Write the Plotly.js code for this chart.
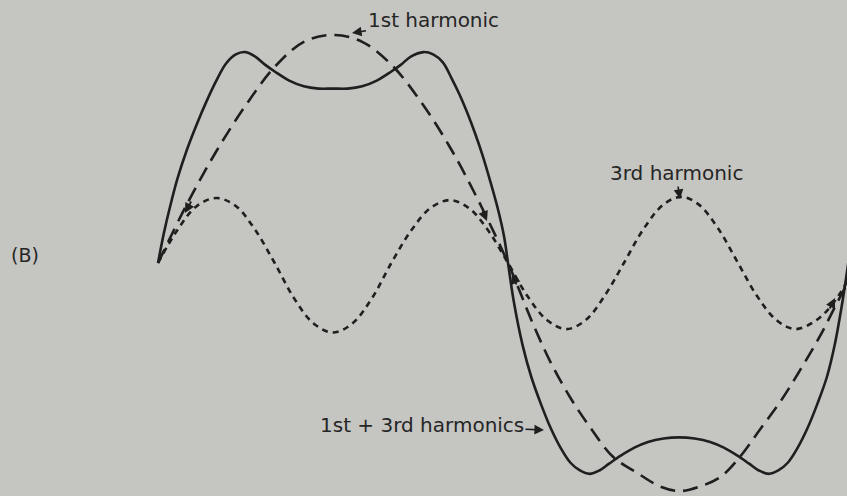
<!DOCTYPE html>
<html>
<head>
<meta charset="utf-8">
<script src="https://cdn.plot.ly/plotly-3.0.1.min.js"></script>
<style>
  html, body { margin: 0; padding: 0; background: #c5c5c2; }
  #chart { width: 847px; height: 496px; }
</style>
</head>
<body>
<div id="chart"></div>
<script>
// ---- Data (x: phase in degrees, y: amplitude, 1st harmonic peak = 1) ----
const harm1X = [0, 15, 30, 45, 60, 75, 90, 105, 120, 135, 150, 165, 180,
                193, 201.6, 212, 222.2, 234, 246.3, 258.2, 268.5, 278.7, 289, 299.3, 309.6, 319.9, 330.2, 340.5, 349.2, 354.3, 358];
const harm1Y = [0, 0.26, 0.49, 0.69, 0.86, 0.97, 1.0, 0.97, 0.87, 0.71, 0.51, 0.27, 0,
                -0.27, -0.43, -0.59, -0.72, -0.85, -0.92, -0.98, -1.0, -0.98, -0.94, -0.85, -0.73, -0.61, -0.47, -0.32, -0.175, -0.09, 0];

const harm3X = [0, 10, 20, 30, 40, 50, 60, 70, 80, 90, 100, 110, 120, 130, 140, 150, 160, 170, 180,
                190, 200, 210, 220, 230, 239.6, 250, 260, 269, 278, 288, 298.3, 308, 318, 327.6, 337, 344, 351, 357];
const harm3Y = [0, 0.145, 0.25, 0.285, 0.25, 0.145, 0, -0.155, -0.265, -0.305, -0.265, -0.155, 0, 0.14, 0.24, 0.276, 0.24, 0.14, 0,
                -0.145, -0.25, -0.29, -0.25, -0.14, 0, 0.153, 0.257, 0.29, 0.257, 0.152, 0, -0.144, -0.25, -0.29, -0.26, -0.21, -0.13, -0.04];

const sumX = [0, 3, 6, 10, 15, 20, 25, 30, 35, 40, 45, 50, 55, 60, 67.5, 75, 82.5, 90,
              97.5, 105, 112.5, 120, 125, 130, 136.5, 141.5, 146.5, 151, 155, 159, 163, 167, 171, 175, 178, 180,
              183, 187.5, 192, 197, 202, 207, 212, 217, 222, 227, 232, 238, 245, 252, 260, 268,
              276, 284, 291, 298, 304, 309, 314, 319, 324, 329, 334, 339, 344, 348, 352, 355];
const sumY = [0, 0.13, 0.24, 0.37, 0.50, 0.61, 0.71, 0.80, 0.875, 0.915, 0.925, 0.905, 0.87, 0.84, 0.80, 0.775, 0.765, 0.765,
              0.765, 0.775, 0.80, 0.84, 0.87, 0.905, 0.925, 0.915, 0.88, 0.81, 0.74, 0.66, 0.57, 0.47, 0.355, 0.23, 0.115, 0,
              -0.17, -0.36, -0.50, -0.62, -0.725, -0.81, -0.875, -0.91, -0.925, -0.91, -0.88, -0.845, -0.81, -0.785, -0.77, -0.765,
              -0.77, -0.785, -0.81, -0.845, -0.88, -0.91, -0.925, -0.91, -0.875, -0.81, -0.725, -0.62, -0.50, -0.36, -0.17, 0];

const labels = {
  first: '1st harmonic',
  third: '3rd harmonic',
  sum: '1st + 3rd harmonics',
  panel: '(B)'
};

// ---- Page geometry helpers (layout only) ----
const W = 847, H = 496;
const ORIGIN_PX = 158, BASE_PY = 263;
const PX_PER_DEG = 700 / 360;
const PX_PER_UNIT = 228;
const X0 = -ORIGIN_PX / PX_PER_DEG, X1 = (W - ORIGIN_PX) / PX_PER_DEG;
const Y1 = BASE_PY / PX_PER_UNIT, Y0 = -(H - BASE_PY) / PX_PER_UNIT;
const dx = p => (p - ORIGIN_PX) / PX_PER_DEG;
const dy = p => (BASE_PY - p) / PX_PER_UNIT;

const ink = '#1f1f1f';
const bg = '#c5c5c2';
const font = { family: 'DejaVu Sans, sans-serif', size: 20, color: '#262626' };

const traces = [
  { x: harm3X, y: harm3Y, name: labels.third, mode: 'lines',
    line: { color: ink, width: 2.6, dash: '6px,5px', shape: 'spline', smoothing: 1 } },
  { x: harm1X, y: harm1Y, name: labels.first, mode: 'lines',
    line: { color: ink, width: 2.6, dash: '15px,8px', shape: 'spline', smoothing: 1 } },
  { x: sumX, y: sumY, name: labels.sum, mode: 'lines',
    line: { color: ink, width: 2.6, shape: 'spline', smoothing: 1 } }
];

function arrowOnly(tx, ty, ax, ay) {
  return { x: dx(tx), y: dy(ty), xref: 'x', yref: 'y', text: '', showarrow: true,
           ax: ax, ay: ay, arrowhead: 2, arrowsize: 1.1, arrowwidth: 1.8, arrowcolor: ink };
}

const annotations = [
  { x: dx(352), y: dy(33), xref: 'x', yref: 'y', text: labels.first, font: font,
    showarrow: true, ax: 81, ay: -13, arrowhead: 2, arrowsize: 1.2, arrowwidth: 1.6, arrowcolor: ink },
  { x: dx(680), y: dy(199), xref: 'x', yref: 'y', text: labels.third, font: font,
    showarrow: true, ax: -4, ay: -26, arrowhead: 2, arrowsize: 1.2, arrowwidth: 1.6, arrowcolor: ink },
  { x: dx(544), y: dy(430), xref: 'x', yref: 'y', text: labels.sum, font: font,
    showarrow: true, ax: -122, ay: -5, arrowhead: 2, arrowsize: 1.2, arrowwidth: 1.6, arrowcolor: ink },
  { x: dx(25), y: dy(255), xref: 'x', yref: 'y', text: labels.panel, showarrow: false,
    font: { family: font.family, size: 19, color: '#262626' }, xanchor: 'center', yanchor: 'middle' },
  arrowOnly(185, 213, 7, -13),
  arrowOnly(487, 221, -5, -12),
  arrowOnly(512, 274, 5, 12),
  arrowOnly(835, 298, -6, 12)
];

const layout = {
  width: W, height: H,
  margin: { l: 0, r: 0, t: 0, b: 0, pad: 0 },
  paper_bgcolor: bg, plot_bgcolor: bg,
  showlegend: false,
  xaxis: { range: [X0, X1], visible: false, fixedrange: true },
  yaxis: { range: [Y0, Y1], visible: false, fixedrange: true },
  annotations: annotations
};

Plotly.newPlot('chart', traces, layout, { displayModeBar: false, staticPlot: true });
</script>
</body>
</html>
